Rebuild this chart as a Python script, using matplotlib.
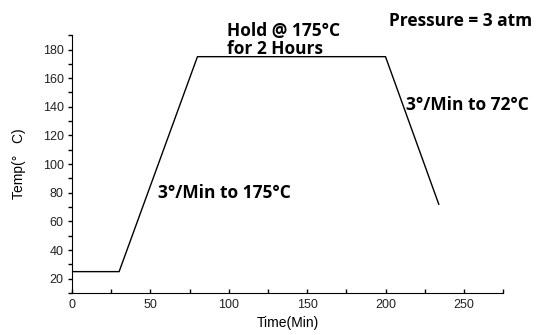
import matplotlib
matplotlib.use("Agg")
import matplotlib.pyplot as plt
from matplotlib.ticker import MultipleLocator

# cure profile
time_min = [0, 30, 80, 200, 234]
temp_c = [25, 25, 175, 175, 72]

x_ticks = [0, 50, 100, 150, 200, 250]
y_ticks = [20, 40, 60, 80, 100, 120, 140, 160, 180]

note_font = ["Open Sans", "DejaVu Sans"]
tick_font = ["Liberation Sans", "DejaVu Sans"]

fig = plt.figure(figsize=(5.38, 3.35), dpi=100)
ax = fig.add_axes([0.134, 0.125, 0.801, 0.77])

ax.plot(time_min, temp_c, color="black", linewidth=1.0)

ax.set_xlim(0, 275)
ax.set_ylim(10, 190)
ax.set_xticks(x_ticks)
ax.set_yticks(y_ticks)
ax.xaxis.set_minor_locator(MultipleLocator(25))
ax.yaxis.set_minor_locator(MultipleLocator(10))

ax.spines["top"].set_visible(False)
ax.spines["right"].set_visible(False)
ax.tick_params(axis="x", which="both", direction="in", length=3, width=1, pad=4)
ax.tick_params(axis="y", which="both", direction="out", length=3, width=1, pad=3)
for lbl in ax.get_xticklabels() + ax.get_yticklabels():
    lbl.set_family(tick_font)
    lbl.set_fontsize(9)
    lbl.set_color("#222222")

ax.set_xlabel("Time(Min)", family=tick_font, fontsize=10, labelpad=4)
ax.set_ylabel("Temp(°   C)", family=tick_font, fontsize=10, labelpad=12)

ax.text(99, 199.5, "Hold @ 175°C\nfor 2 Hours", family=note_font, fontweight="bold",
        fontsize=12.5, va="top", ha="left", linespacing=1.05, clip_on=False)
ax.text(202, 206.5, "Pressure = 3 atm", family=note_font, fontweight="bold",
        fontsize=12.5, va="top", ha="left", clip_on=False)
ax.text(55, 80, "3°/Min to 175°C", family=note_font, fontweight="bold",
        fontsize=12.5, va="center", ha="left")
ax.text(213, 141, "3°/Min to 72°C", family=note_font, fontweight="bold",
        fontsize=12.5, va="center", ha="left", clip_on=False)

fig.savefig("out.png", dpi=100)
plt.close(fig)
